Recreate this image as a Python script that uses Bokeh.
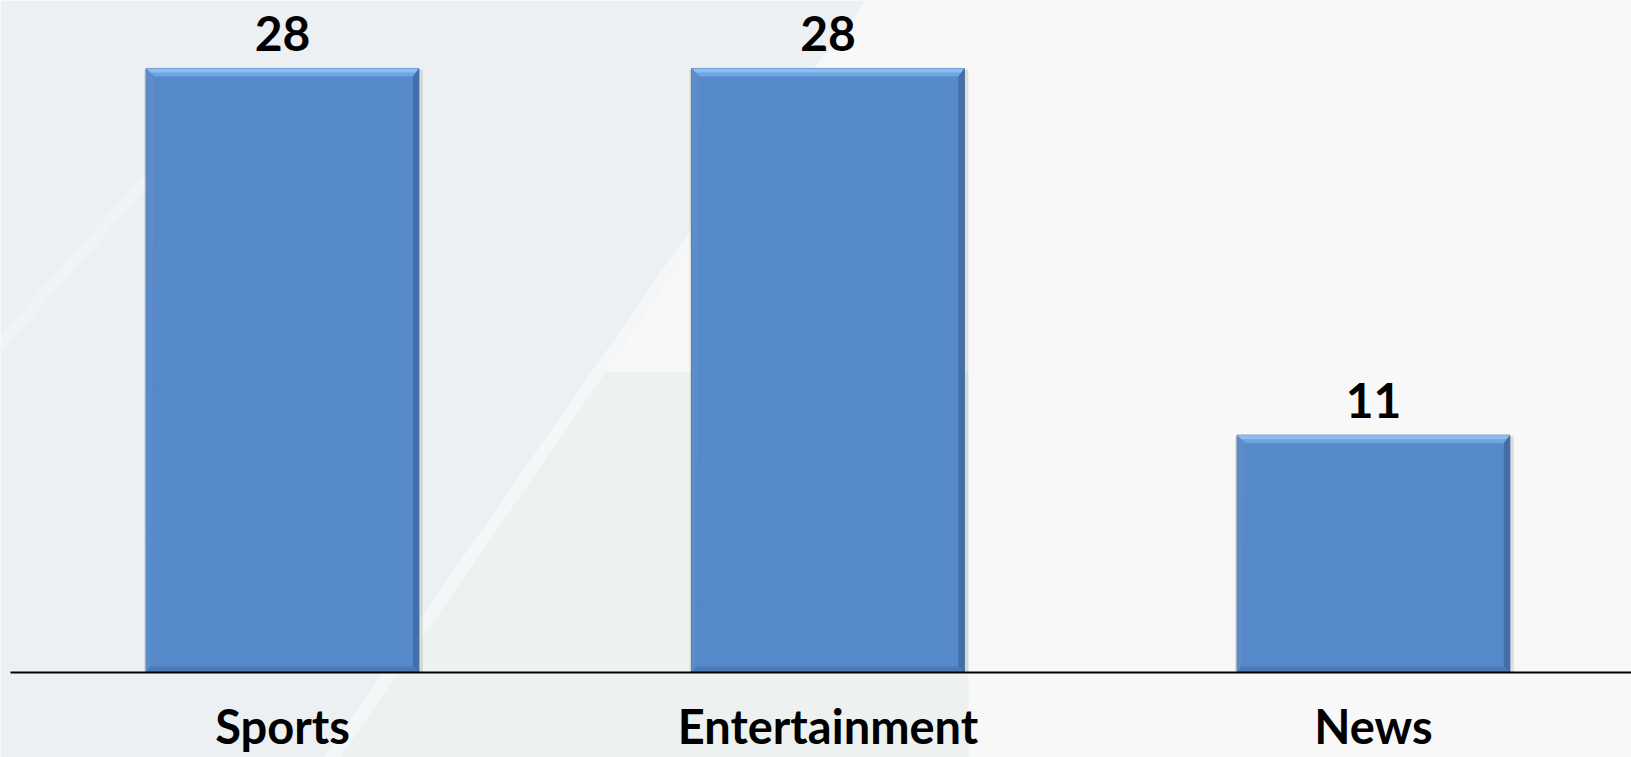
from bokeh.plotting import figure
from bokeh.models import PolyAnnotation
from bokeh.core.properties import value
from bokeh.embed import file_html
from bokeh.resources import INLINE

# ---- data ----
categories = ["Sports", "Entertainment", "News"]
counts = [28, 28, 11]

# ---- layout ----
W, H = 1631, 757
X_START, X_END = -0.517, 2.473
Y_START, Y_END = -3.941, 31.15
px_x = W / (X_END - X_START)
px_y = H / (Y_END - Y_START)
BAR_W = 0.5

p = figure(width=W, height=H, x_range=(X_START, X_END), y_range=(Y_START, Y_END),
           output_backend="svg", toolbar_location=None, min_border=0,
           x_axis_type=None, y_axis_type=None, outline_line_color=None,
           background_fill_color="#F8F8F8", border_fill_color="#F8F8F8")
p.grid.visible = False

# ---- decorative slide background (screen units, given top-down) ----
def poly(pts, color):
    xs = [a for a, b in pts]
    ys = [H - b for a, b in pts]
    p.add_layout(PolyAnnotation(xs=xs, ys=ys, xs_units="screen", ys_units="screen",
                                fill_color=color, fill_alpha=1.0, line_color=None,
                                level="underlay"))

poly([(0, 0), (866, 0), (700, 215), (318, 765), (0, 765)], "#EDF0F3")
poly([(590, 372), (968, 372), (968, 765), (330, 765)], "#EDF2F0")
poly([(700, 215), (713, 215), (334, 765), (318, 765)], "#F4F6F7")
poly([(0, 335), (147, 170), (158, 174), (0, 352)], "#F1F3F5")

# ---- bars ----
xs = [float(i) for i in range(len(categories))]
x0 = [x - BAR_W / 2 for x in xs]
x1 = [x + BAR_W / 2 for x in xs]
bt = 8 / px_y      # top bevel
bb = 6 / px_y      # bottom bevel
bl = 4 / px_x      # left bevel
br = 6 / px_x      # right bevel

# soft shadow
p.quad(left=[a - 2 / px_x for a in x0], right=[b + 4 / px_x for b in x1],
       bottom=[0] * len(xs), top=[v - 1 / px_y for v in counts],
       fill_color="#000000", fill_alpha=0.10, line_color=None)

p.quad(left=x0, right=x1, bottom=[0] * len(xs), top=counts,
       fill_color="#5589CA", line_color="#4A6F9E", line_width=1)

top_xs, top_ys, hi_xs, hi_ys = [], [], [], []
l_xs, l_ys, r_xs, r_ys, b_xs, b_ys = [], [], [], [], [], []
for a, b, v in zip(x0, x1, counts):
    top_xs.append([a, b, b - br, a + bl * 2]); top_ys.append([v, v, v - bt, v - bt])
    hi_xs.append([a, b, b - br / 2, a + bl]); hi_ys.append([v, v, v - bt / 2, v - bt / 2])
    l_xs.append([a, a + bl * 2, a + bl, a]); l_ys.append([v, v - bt, bb, 0])
    r_xs.append([b, b, b - br, b - br]); r_ys.append([v, 0, bb, v - bt])
    b_xs.append([a, b, b - br, a + bl]); b_ys.append([0, 0, bb, bb])

p.patches(top_xs, top_ys, fill_color="#6FA4E3", line_color=None)
p.patches(hi_xs, hi_ys, fill_color="#8CBDF2", line_color=None)
p.patches(l_xs, l_ys, fill_color="#5C8CC9", line_color=None)
p.patches(r_xs, r_ys, fill_color="#436EA6", line_color=None)
p.patches(b_xs, b_ys, fill_color="#4D7AB5", line_color=None)

# ---- baseline (category axis line) ----
p.segment(x0=[X_START + 10 / px_x], y0=[0], x1=[X_END], y1=[0],
          line_color="#000000", line_width=2)

# ---- value labels ----
p.text(x=xs, y=counts, text=[str(c) for c in counts], text_align="center",
       text_baseline="alphabetic", y_offset=-35, text_font=value("Lato"),
       text_font_style="bold", text_font_size="48px", text_color="#000000")

# ---- category labels ----
p.text(x=xs, y=[0] * len(xs), text=categories, text_align="center",
       text_baseline="alphabetic", y_offset=54, text_font=value("Lato"),
       text_font_style="bold", text_font_size="47px", text_color="#000000")

open("out.html", "w").write(file_html(p, INLINE))
